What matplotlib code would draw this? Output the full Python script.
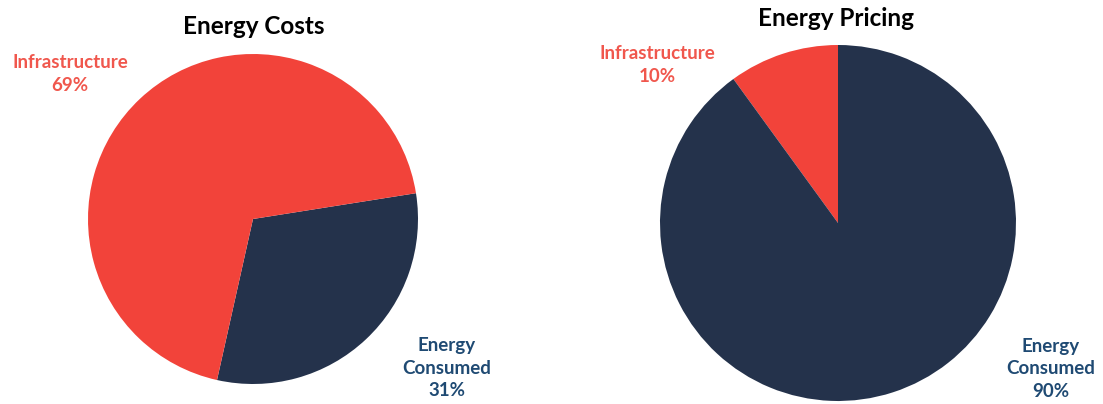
import matplotlib
matplotlib.use("Agg")
import matplotlib.pyplot as plt

# Data
categories = ["Energy Consumed", "Infrastructure"]
costs_values = [31, 69]      # Energy Costs
pricing_values = [90, 10]    # Energy Pricing
titles = ["Energy Costs", "Energy Pricing"]

RED = "#F2433A"
NAVY = "#24324B"
RED_TXT = "#F0574D"
BLUE_TXT = "#1F4A73"

W, H = 1103, 404
fig = plt.figure(figsize=(W / 100, H / 100), dpi=100)
ax = fig.add_axes([0, 0, 1, 1])

FONT = ["Lato", "DejaVu Sans"]

# Left pie: Energy Costs
ax.pie(costs_values, colors=[NAVY, RED], startangle=9, counterclock=False,
       center=(253, H - 219), radius=165, frame=True,
       wedgeprops=dict(linewidth=0))
# Right pie: Energy Pricing (Infrastructure first, counter-clockwise from top)
ax.pie(pricing_values[::-1], colors=[RED, NAVY], startangle=90, counterclock=True,
       center=(838, H - 223), radius=178, frame=True,
       wedgeprops=dict(linewidth=0))
ax.set_xlim(0, W)
ax.set_ylim(0, H)
ax.set_aspect("equal")
ax.axis("off")

ax.text(254, H - 27, titles[0], ha="center", va="center", fontsize=17.5,
        fontweight="bold", family=FONT, color="black")
ax.text(836, H - 19, titles[1], ha="center", va="center", fontsize=17.5,
        fontweight="bold", family=FONT, color="black")

lab_kw = dict(ha="center", va="center", fontsize=13.5, fontweight="bold",
              family=FONT, linespacing=1.4)
ax.text(70, H - 74, f"{categories[1]}\n{costs_values[1]}%", color=RED_TXT, **lab_kw)
ax.text(447, H - 368, f"Energy\nConsumed\n{costs_values[0]}%", color=BLUE_TXT, **lab_kw)
ax.text(657, H - 65, f"{categories[1]}\n{pricing_values[1]}%", color=RED_TXT, **lab_kw)
ax.text(1051, H - 369, f"Energy\nConsumed\n{pricing_values[0]}%", color=BLUE_TXT, **lab_kw)

fig.savefig("out.png", dpi=100, facecolor="white")
